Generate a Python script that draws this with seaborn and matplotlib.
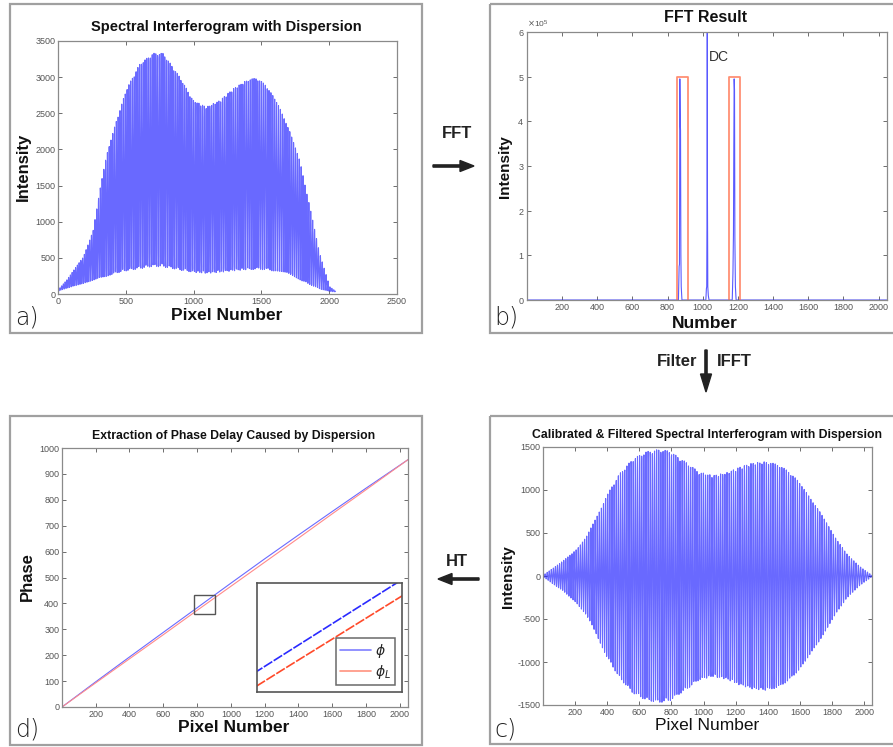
import numpy as np
import matplotlib
matplotlib.use("Agg")
import matplotlib.pyplot as plt
import seaborn as sns
from matplotlib.patches import Rectangle, FancyArrow
from matplotlib.ticker import ScalarFormatter
from matplotlib.lines import Line2D

# ---------------- data ----------------
# a) spectral interferogram envelopes (upper / lower)
pixel_env_a = [0, 64, 187, 260, 309, 359, 432, 506, 604, 702, 776, 899, 997, 1095, 1194, 1292, 1390, 1464, 1537, 1636, 1709, 1783, 1857, 1930, 2004, 2047]
upper_a = [55, 193, 516, 884, 1437, 1943, 2404, 2841, 3187, 3330, 3330, 3002, 2680, 2588, 2680, 2841, 2956, 2993, 2887, 2588, 2266, 1851, 1207, 562, 101, 40]
lower_a = [40, 80, 147, 190, 215, 245, 290, 320, 350, 380, 375, 330, 300, 285, 300, 320, 335, 340, 335, 300, 260, 193, 130, 70, 35, 30]

# b) FFT magnitude
fft_bins = [1, 850, 862, 866, 868, 870, 872, 874, 876, 878, 882, 1000, 1018, 1021, 1023, 1025, 1026, 1027, 1029, 1032, 1036,
            1160, 1168, 1172, 1175, 1177, 1179, 1181, 1183, 1186, 1190, 2048]
fft_vals = [0, 0, 0, 75000, 80000, 495000, 400000, 380000, 100000, 30000, 0, 0, 0, 25000, 30000, 230000, 1200000, 230000, 30000, 10000, 0,
            0, 0, 60000, 150000, 340000, 495000, 470000, 140000, 30000, 0, 0]
filter_windows = [(855, 918), (1152, 1214)]
filter_height = 500000

# c) filtered interferogram amplitude envelope
pixel_env_c = [1, 125, 208, 270, 332, 394, 477, 560, 643, 726, 788, 891, 974, 1057, 1140, 1222, 1305, 1388, 1471, 1554, 1636, 1719, 1802, 1885, 1968, 2048]
amp_c = [8, 174, 310, 455, 677, 928, 1189, 1363, 1446, 1473, 1454, 1324, 1208, 1170, 1199, 1266, 1315, 1330, 1295, 1180, 996, 773, 503, 271, 116, 8]

# d) phase
pixel_phase = [1, 200, 400, 600, 800, 1000, 1200, 1400, 1600, 1800, 2048]
phi = [0, 97, 193, 288, 383, 478, 572, 664, 755, 845, 955]
phi_L = [0, 93, 186, 279, 373, 466, 559, 652, 746, 839, 955]

# ---------------- derived signals ----------------
pix = np.arange(0, 2048)
phase_full = np.interp(pix, pixel_phase, phi)
up = np.interp(pix, pixel_env_a, upper_a)
lo = np.interp(pix, pixel_env_a, lower_a)
sig_a = (up + lo) / 2 + (up - lo) / 2 * np.cos(phase_full)
pix_c = np.arange(1, 2049)
sig_c = np.interp(pix_c, pixel_env_c, amp_c) * np.cos(np.interp(pix_c, pixel_phase, phi))

# ---------------- figure ----------------
sns.set_style("ticks")
plt.rcParams['font.family'] = ['Liberation Sans', 'DejaVu Sans']
plt.rcParams['axes.unicode_minus'] = False
W, H = 893, 747
fig = plt.figure(figsize=(W / 100, H / 100), dpi=100)

overlay = fig.add_axes([0, 0, 1, 1])
overlay.set_xlim(0, W)
overlay.set_ylim(H, 0)
overlay.axis('off')

def px_axes(l, t, r, b):
    return fig.add_axes([l / W, 1 - b / H, (r - l) / W, (b - t) / H])

def style(ax):
    ax.tick_params(direction='in', top=True, right=True, length=3, width=0.6,
                   colors='#555555', labelsize=6.5, pad=2)
    for s in ax.spines.values():
        s.set_color('#8a8a8a')
        s.set_linewidth(0.9)

# panel frames
for (l, t, r, b) in [(10, 4, 422, 333), (490, 4, 897, 333), (10, 416, 422, 745), (490, 416, 897, 744)]:
    overlay.add_patch(Rectangle((l, t), r - l, b - t, fill=False, ec='#a0a0a0', lw=1.6))

BLUE = '#2222ff'

# a)
ax_a = px_axes(58, 41, 397, 294)
sns.lineplot(x=pix, y=sig_a, ax=ax_a, color=BLUE, lw=0.8, alpha=0.68)
ax_a.set_xlim(0, 2500)
ax_a.set_ylim(0, 3500)
ax_a.set_xticks(range(0, 2501, 500))
ax_a.set_yticks(range(0, 3501, 500))
style(ax_a)

# b)
ax_b = px_axes(527, 32, 887, 300)
sns.lineplot(x=fft_bins, y=fft_vals, ax=ax_b, color=BLUE, lw=0.8, alpha=0.75)
for (x0, x1) in filter_windows:
    ax_b.plot([x0, x0, x1, x1], [0, filter_height, filter_height, 0], color='#ff6a45', lw=1.3, alpha=0.75)
ax_b.set_xlim(1, 2048)
ax_b.set_ylim(0, 600000)
ax_b.set_xticks(range(200, 2001, 200))
fmt = ScalarFormatter(useMathText=True)
fmt.set_powerlimits((0, 0))
ax_b.yaxis.set_major_formatter(fmt)
style(ax_b)
ax_b.yaxis.get_offset_text().set_fontsize(6)
ax_b.yaxis.get_offset_text().set_color('#555555')
ax_b.text(1036, 545000, 'DC', fontsize=10, color='#333333', va='center', ha='left')

# c)
ax_c = px_axes(543, 447, 872, 705)
sns.lineplot(x=pix_c, y=sig_c, ax=ax_c, color=BLUE, lw=0.8, alpha=0.68)
ax_c.set_xlim(1, 2048)
ax_c.set_ylim(-1500, 1500)
ax_c.set_xticks(range(200, 2001, 200))
ax_c.set_yticks(range(-1500, 1501, 500))
style(ax_c)

# d)
ax_d = px_axes(62, 448, 408, 707)
sns.lineplot(x=pixel_phase, y=phi, ax=ax_d, color='#6a6aff', lw=0.8)
sns.lineplot(x=pixel_phase, y=phi_L, ax=ax_d, color='#ff8a8a', lw=0.8)
ax_d.set_xlim(1, 2048)
ax_d.set_ylim(0, 1000)
ax_d.set_xticks(range(200, 2001, 200))
ax_d.set_yticks(range(0, 1001, 100))
style(ax_d)

zx0, zx1, zy0, zy1 = 780, 905, 358, 432
ax_d.add_patch(Rectangle((zx0, zy0), zx1 - zx0, zy1 - zy0, fill=False, ec='#555555', lw=1.0, zorder=5))

ax_in = px_axes(257, 583, 402, 692)
sns.lineplot(x=pixel_phase, y=phi, ax=ax_in, color='#2a2aff', lw=1.2, label=r'$\phi$')
sns.lineplot(x=pixel_phase, y=phi_L, ax=ax_in, color='#ff4a2a', lw=1.2, label=r'$\phi_L$')
for ln in ax_in.get_lines():
    ln.set_dashes([6, 1])
ax_in.set_xlim(zx0 - 3, zx1 + 3)
ax_in.set_ylim(zy0, zy1)
ax_in.set_xticks([])
ax_in.set_yticks([])
ax_in.set_xlabel('')
ax_in.set_ylabel('')
for s in ax_in.spines.values():
    s.set_color('#555555')
    s.set_linewidth(1.2)
leg = ax_in.legend(loc='lower right', fontsize=10, frameon=True, fancybox=False,
                   handlelength=2.2, borderpad=0.3, labelspacing=0.2, handletextpad=0.3,
                   borderaxespad=0.5)
leg.get_frame().set_edgecolor('#444444')
leg.get_frame().set_linewidth(1.1)
for h in leg.get_lines():
    h.set_alpha(0.6)
    h.set_linestyle('-')

# connector lines from zoom box to inset (pixel coordinates)
overlay.add_line(Line2D([216, 257], [596, 583], color='#666666', lw=0.9))
overlay.add_line(Line2D([216, 257], [614, 692], color='#666666', lw=0.9))

for ax in [ax_a, ax_b, ax_c, ax_d]:
    ax.set_xlabel('')
    ax.set_ylabel('')

# ---------------- text ----------------
tkw = dict(ha='center', va='center', color='#111111')
overlay.text(226, 27, 'Spectral Interferogram with Dispersion', fontsize=10.5, fontweight='bold', **tkw)
overlay.text(706, 18, 'FFT Result', fontsize=11.5, fontweight='bold', **tkw)
overlay.text(707, 435, 'Calibrated & Filtered Spectral Interferogram with Dispersion', fontsize=8.8, fontweight='bold', **tkw)
overlay.text(234, 436, 'Extraction of Phase Delay Caused by Dispersion', fontsize=8.8, fontweight='bold', **tkw)

overlay.text(227, 315, 'Pixel Number', fontsize=12.5, fontweight='bold', **tkw)
overlay.text(705, 323, 'Number', fontsize=12.5, fontweight='bold', **tkw)
overlay.text(707, 725, 'Pixel Number', fontsize=12.5, **tkw)
overlay.text(234, 728, 'Pixel Number', fontsize=12.5, fontweight='bold', **tkw)

overlay.text(23, 167, 'Intensity', fontsize=12, fontweight='bold', rotation=90, **tkw)
overlay.text(505, 167, 'Intensity', fontsize=11, fontweight='bold', rotation=90, **tkw)
overlay.text(508, 577, 'Intensity', fontsize=11, fontweight='bold', rotation=90, **tkw)
overlay.text(27, 577, 'Phase', fontsize=12, fontweight='bold', rotation=90, **tkw)

lkw = dict(fontsize=17, fontweight='light', family='DejaVu Sans', color='#222222', ha='left', va='center')
overlay.text(15, 318, 'a)', **lkw)
overlay.text(494, 318, 'b)', **lkw)
overlay.text(15, 730, 'd)', **lkw)
overlay.text(494, 730, 'c)', **lkw)

# process arrows
akw = dict(fontsize=12, fontweight='bold', color='#222222', va='center')
overlay.text(457, 133, 'FFT', ha='center', **akw)
overlay.add_patch(FancyArrow(433, 166, 41, 0, width=2.2, head_width=11, head_length=14,
                             length_includes_head=True, color='#222222'))
overlay.text(697, 362, 'Filter', ha='right', **akw)
overlay.text(717, 362, 'IFFT', ha='left', **akw)
overlay.add_patch(FancyArrow(706, 350, 0, 42, width=2.2, head_width=11, head_length=18,
                             length_includes_head=True, color='#222222'))
overlay.text(457, 562, 'HT', ha='center', **akw)
overlay.add_patch(FancyArrow(479, 579, -41, 0, width=2.2, head_width=11, head_length=14,
                             length_includes_head=True, color='#222222'))

fig.savefig('out.png', dpi=100)
